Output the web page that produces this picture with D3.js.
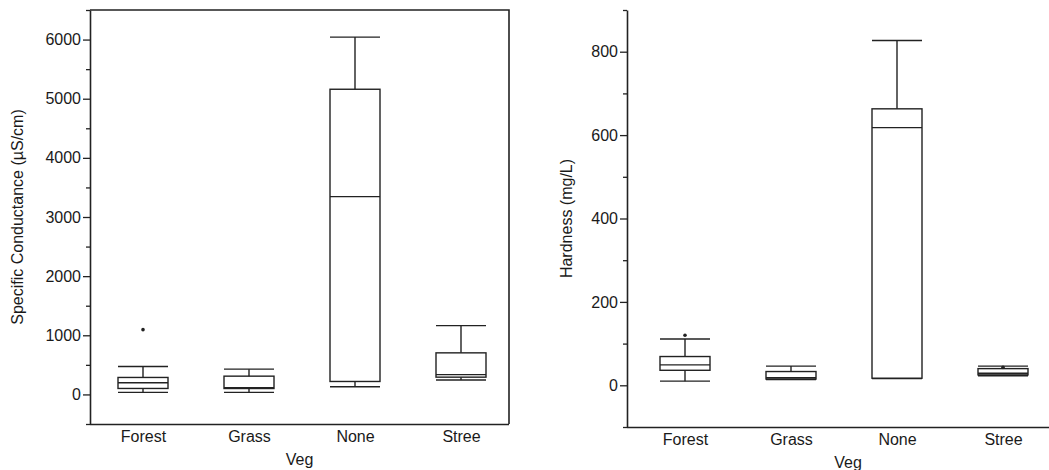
<!DOCTYPE html>
<html lang="en">
<head>
    <meta charset="UTF-8">
    <title>Specific Conductance and Hardness by Veg</title>
    <script src="https://d3js.org/d3.v7.min.js"></script>
    <style>
        body { margin: 0; background: #fff; }
        svg text {
            font-family: "Liberation Sans", Arial, sans-serif;
            font-size: 16px;
            fill: #1a1a1a;
        }
    </style>
</head>
<body>
    <svg id="chart" width="1049" height="470"></svg>

    <script>
        // Data
        const categories = ["Forest", "Grass", "None", "Stree"];

        // Specific conductance (uS/cm)
        const condLow = [34, 34, 130, 245];
        const condQ1 = [101, 100, 219, 292];
        const condMedian = [197, 115, 3344, 335];
        const condQ3 = [287, 309, 5160, 703];
        const condHigh = [472, 427, 6042, 1163];
        const condOutliers = [[1095], [], [], []];
        const condTicks = [0, 1000, 2000, 3000, 4000, 5000, 6000];

        // Hardness (mg/L)
        const hardLow = [10, 14, 16, 23];
        const hardQ1 = [36, 15, 17, 25];
        const hardMedian = [49, 18, 618, 29];
        const hardQ3 = [69, 33, 663, 40];
        const hardHigh = [111, 46, 827, 46];
        const hardOutliers = [[120], [], [], [43]];
        const hardTicks = [0, 200, 400, 600, 800];

        const svg = d3.select("#chart");
        const ink = "#222";

        function panel(opt) {
            const g = svg.append("g");

            const x = d3.scalePoint()
                .domain(categories)
                .range([opt.left + opt.inset, opt.left + opt.inset + 3 * opt.step]);
            const y = d3.scaleLinear()
                .domain(opt.domain)
                .range([opt.bottom, opt.top]);

            // y axis with minor ticks
            const minor = d3.range(opt.domain[0], opt.domain[1] + 1e-9, opt.minorStep)
                .filter(v => !opt.ticks.includes(v));
            g.append("g")
                .attr("transform", `translate(${opt.left},0)`)
                .call(d3.axisLeft(y).tickValues(minor).tickSize(4).tickFormat(""))
                .call(a => a.select(".domain").remove())
                .selectAll("line").attr("stroke", ink).attr("stroke-width", 1.3);
            const ya = g.append("g")
                .attr("transform", `translate(${opt.left},0)`)
                .call(d3.axisLeft(y).tickValues(opt.ticks).tickSize(7).tickSizeOuter(0)
                    .tickPadding(2).tickFormat(d3.format("d")));
            ya.select(".domain").attr("stroke", ink).attr("stroke-width", 1.6);
            ya.selectAll("line").attr("stroke", ink).attr("stroke-width", 1.3);
            ya.selectAll("text").attr("font-size", null).attr("font-family", null);

            // x axis (labels only)
            const xa = g.append("g")
                .attr("transform", `translate(0,${opt.bottom})`)
                .call(d3.axisBottom(x).tickSize(0).tickPadding(7));
            xa.select(".domain")
                .attr("d", `M${opt.left},0.5H${opt.right}`)
                .attr("stroke", ink).attr("stroke-width", 1.6);
            xa.selectAll("text").attr("font-size", null).attr("font-family", null);

            if (opt.frame) {
                g.append("path")
                    .attr("d", `M${opt.left},${opt.top}H${opt.right}V${opt.bottom}`)
                    .attr("fill", "none")
                    .attr("stroke", ink)
                    .attr("stroke-width", 1.6);
            }

            // boxes
            const bw = 50;
            const s = opt.stats;
            categories.forEach((c, i) => {
                const cx = x(c);
                const b = g.append("g")
                    .attr("fill", "none")
                    .attr("stroke", ink)
                    .attr("stroke-width", 1.4);
                b.append("line")
                    .attr("x1", cx).attr("x2", cx)
                    .attr("y1", y(s.high[i])).attr("y2", y(s.q3[i]));
                b.append("line")
                    .attr("x1", cx).attr("x2", cx)
                    .attr("y1", y(s.q1[i])).attr("y2", y(s.low[i]));
                b.append("line")
                    .attr("x1", cx - bw / 2).attr("x2", cx + bw / 2)
                    .attr("y1", y(s.high[i])).attr("y2", y(s.high[i]));
                b.append("line")
                    .attr("x1", cx - bw / 2).attr("x2", cx + bw / 2)
                    .attr("y1", y(s.low[i])).attr("y2", y(s.low[i]));
                b.append("rect")
                    .attr("x", cx - bw / 2)
                    .attr("width", bw)
                    .attr("y", y(s.q3[i]))
                    .attr("height", y(s.q1[i]) - y(s.q3[i]));
                b.append("line")
                    .attr("x1", cx - bw / 2).attr("x2", cx + bw / 2)
                    .attr("y1", y(s.median[i])).attr("y2", y(s.median[i]));
                g.selectAll(null)
                    .data(s.out[i])
                    .enter().append("circle")
                    .attr("cx", cx)
                    .attr("cy", d => y(d))
                    .attr("r", 1.8)
                    .attr("fill", ink);
            });

            // axis titles
            g.append("text")
                .attr("transform", `translate(${opt.yTitleX},${(opt.top + opt.bottom) / 2}) rotate(-90)`)
                .attr("text-anchor", "middle")
                .text(opt.yTitle);
            g.append("text")
                .attr("x", (opt.left + (opt.titleRight || opt.right)) / 2)
                .attr("y", opt.bottom + 41)
                .attr("text-anchor", "middle")
                .text("Veg");
        }

        panel({
            left: 90, right: 509, top: 10, bottom: 424,
            inset: 53, step: 106,
            domain: [-500, 6500], minorStep: 500, ticks: condTicks,
            frame: true,
            yTitle: "Specific Conductance (µS/cm)", yTitleX: 23,
            stats: { low: condLow, q1: condQ1, median: condMedian, q3: condQ3, high: condHigh, out: condOutliers }
        });

        panel({
            left: 627, right: 1049, titleRight: 1069, top: 10, bottom: 427,
            inset: 58, step: 106,
            domain: [-100, 900], minorStep: 100, ticks: hardTicks,
            frame: false,
            yTitle: "Hardness (mg/L)", yTitleX: 572,
            stats: { low: hardLow, q1: hardQ1, median: hardMedian, q3: hardQ3, high: hardHigh, out: hardOutliers }
        });
    </script>
</body>
</html>
